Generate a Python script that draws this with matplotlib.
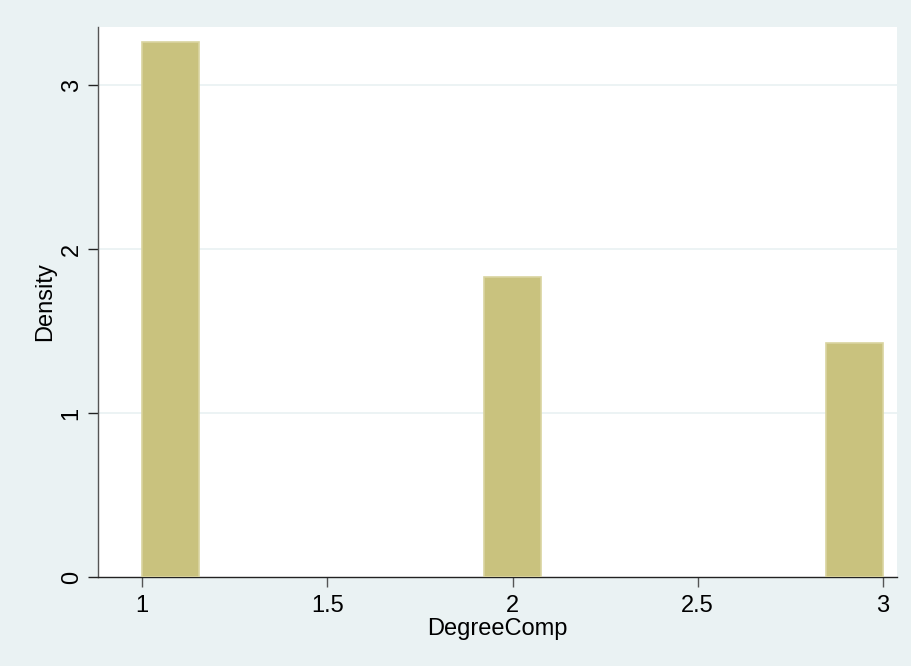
import numpy as np
import matplotlib.pyplot as plt

# histogram of DegreeComp (13 bins on [1, 3], density scale)
bin_width = 2 / 13
bin_left = [1.0, 1 + 6 * bin_width, 1 + 12 * bin_width]
density = [3.26, 1.83, 1.43]

x_ticks = [1, 1.5, 2, 2.5, 3]
x_labels = ["1", "1.5", "2", "2.5", "3"]
y_ticks = [0, 1, 2, 3]

bg = "#eaf2f3"
fill = "#c9c27e"
edge = "#d9d4a0"

plt.rcParams['font.family'] = ['Liberation Sans', 'DejaVu Sans']

fig = plt.figure(figsize=(9.11, 6.66), dpi=100, facecolor=bg)
ax = fig.add_axes([98 / 911, 1 - 577 / 666, (897 - 98) / 911, (577 - 27) / 666])
ax.set_facecolor("white")

ax.bar(bin_left, density, width=bin_width, align="edge",
       color=fill, edgecolor=edge, linewidth=1.2, zorder=3)

ax.set_xlim(0.881, 3.038)
ax.set_ylim(0, 3.354)

for y in y_ticks[1:]:
    ax.axhline(y, color=bg, linewidth=1.3, zorder=1)

ax.set_xticks(x_ticks)
ax.set_xticklabels(x_labels)
ax.set_yticks(y_ticks)
ax.set_yticklabels([str(v) for v in y_ticks], rotation=90, va="center")

ax.tick_params(axis="x", direction="out", length=7, width=1, color="#555555",
               labelsize=17, pad=6)
ax.tick_params(axis="y", direction="out", length=7, width=1, color="#222222",
               labelsize=17, pad=4)

for side in ["top", "right"]:
    ax.spines[side].set_visible(False)
ax.spines["left"].set_color("#555555")
ax.spines["bottom"].set_color("#222222")
ax.spines["left"].set_linewidth(1)
ax.spines["bottom"].set_linewidth(1)

ax.set_xlabel("DegreeComp", fontsize=17, labelpad=1)
ax.set_ylabel("Density", fontsize=17, labelpad=3)

fig.savefig("out.png", dpi=100, facecolor=bg)
